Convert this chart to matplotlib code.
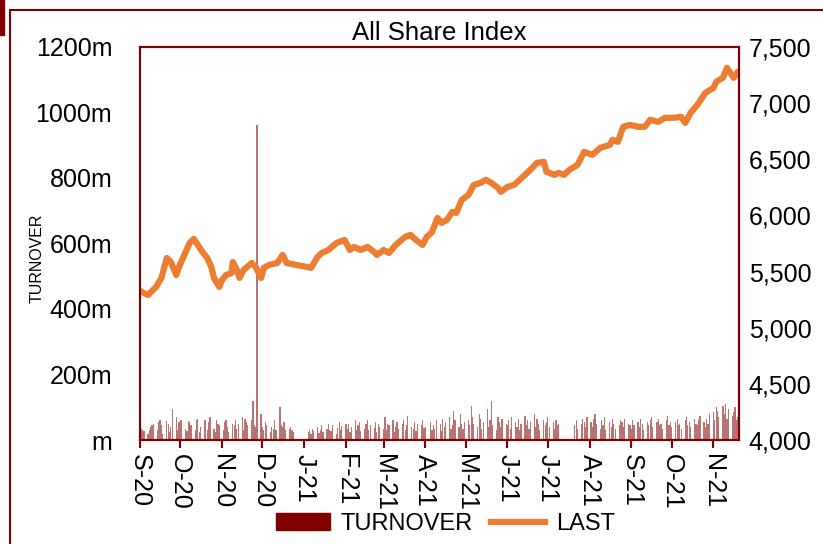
import matplotlib
matplotlib.use("Agg")
import matplotlib.pyplot as plt
import matplotlib.dates as mdates
from matplotlib.patches import Rectangle
from matplotlib.lines import Line2D
from matplotlib.patches import Patch
import pandas as pd

plt.rcParams["font.family"] = ["Liberation Sans", "DejaVu Sans"]

# daily turnover (millions), one value per business day from 2020-09-01
turnover = [
    # Sep-20
    25, 35, 30, 28, 20, 32, 40, 45, 50, 30, 55, 60, 45, 20, 58, 50, 25, 40, 95, 70, 30, 55,
    # Oct-20
    62, 60, 35, 28, 58, 55, 45, 30, 60, 65, 25, 40, 60, 62, 30, 55, 70, 35, 25, 60, 50, 45,
    # Nov-20
    30, 55, 62, 40, 25, 50, 45, 60, 35, 50, 70, 30, 65, 55, 45, 60, 120, 45, 40, 960, 80,
    # Dec-20
    40, 30, 55, 45, 25, 40, 35, 60, 30, 100, 45, 40, 55, 30, 35, 40, 30, 25, 0, 0, 0, 0, 0,
    # Jan-21
    0, 25, 30, 20, 35, 28, 40, 22, 30, 45, 25, 35, 50, 30, 28, 45, 20, 38, 55, 30, 42,
    # Feb-21
    48, 35, 50, 25, 40, 60, 30, 45, 55, 28, 35, 50, 62, 30, 45, 38, 55, 25, 48, 40,
    # Mar-21
    35, 70, 30, 50, 45, 60, 25, 40, 55, 35, 48, 62, 30, 45, 75, 40, 35, 55, 28, 50, 45, 60, 38,
    # Apr-21
    40, 0, 55, 30, 45, 35, 60, 50, 28, 65, 40, 55, 70, 35, 45, 90, 60, 40, 80, 50, 35, 55,
    # May-21
    60, 45, 105, 70, 50, 40, 80, 65, 35, 55, 95, 40, 60, 120, 45, 30, 70, 55, 40, 65, 50,
    # Jun-21
    45, 60, 35, 70, 55, 40, 65, 30, 50, 75, 45, 60, 35, 55, 80, 40, 65, 50, 30, 60, 45, 55,
    # Jul-21
    70, 40, 55, 35, 60, 45, 50, 0, 0, 0, 0, 0, 0, 0, 45, 60, 35, 50, 65, 55, 40, 70,
    # Aug-21
    55, 40, 65, 80, 50, 35, 60, 45, 70, 30, 55, 40, 65, 50, 35, 45, 60, 55, 40, 65, 50, 45,
    # Sep-21
    35, 60, 45, 55, 40, 65, 50, 30, 55, 45, 60, 70, 40, 55, 65, 45, 50, 35, 60, 75, 45, 55,
    # Oct-21
    40, 55, 65, 45, 50, 35, 60, 70, 45, 55, 40, 65, 50, 45, 60, 75, 55, 40, 65, 50, 80,
    # Nov-21
    85, 60, 100, 90, 70, 105, 80, 110, 65, 95, 75, 85, 100, 60, 70,
]

last_dates = [
    "2020-09-01", "2020-09-07", "2020-09-13", "2020-09-17", "2020-09-21", "2020-09-24",
    "2020-09-28", "2020-09-30", "2020-10-04", "2020-10-08", "2020-10-11", "2020-10-14",
    "2020-10-18", "2020-10-21", "2020-10-24", "2020-10-26", "2020-10-30", "2020-11-01",
    "2020-11-04", "2020-11-08", "2020-11-09", "2020-11-12", "2020-11-14", "2020-11-17",
    "2020-11-23", "2020-11-26", "2020-11-30", "2020-12-02", "2020-12-06", "2020-12-12",
    "2020-12-16", "2020-12-19", "2020-12-26", "2021-01-03", "2021-01-06", "2021-01-11",
    "2021-01-14", "2021-01-19", "2021-01-25", "2021-01-31", "2021-02-04", "2021-02-07",
    "2021-02-12", "2021-02-17", "2021-02-22", "2021-02-24", "2021-03-01", "2021-03-05",
    "2021-03-10", "2021-03-17", "2021-03-21", "2021-03-25", "2021-03-30", "2021-04-02",
    "2021-04-06", "2021-04-10", "2021-04-13", "2021-04-17", "2021-04-21", "2021-04-24",
    "2021-04-28", "2021-05-03", "2021-05-07", "2021-05-12", "2021-05-16", "2021-05-20",
    "2021-05-25", "2021-05-27", "2021-06-01", "2021-06-06", "2021-06-14", "2021-06-18",
    "2021-06-23", "2021-06-28", "2021-06-30", "2021-07-06", "2021-07-09", "2021-07-13",
    "2021-07-17", "2021-07-23", "2021-07-28", "2021-08-03", "2021-08-09", "2021-08-16",
    "2021-08-18", "2021-08-22", "2021-08-26", "2021-08-31", "2021-09-06", "2021-09-11",
    "2021-09-15", "2021-09-21", "2021-09-26", "2021-10-03", "2021-10-08", "2021-10-11",
    "2021-10-15", "2021-10-20", "2021-10-26", "2021-11-01", "2021-11-03", "2021-11-08",
    "2021-11-11", "2021-11-16", "2021-11-19",
]
last_values = [
    5327, 5291, 5363, 5443, 5621, 5585, 5469, 5541, 5648, 5754, 5790, 5737,
    5665, 5621, 5541, 5443, 5363, 5425, 5469, 5487, 5585, 5514, 5443, 5514,
    5576, 5541, 5443, 5532, 5559, 5576, 5648, 5576, 5559, 5541, 5532, 5630,
    5665, 5692, 5754, 5781, 5692, 5719, 5692, 5719, 5674, 5648, 5692, 5665,
    5737, 5808, 5826, 5781, 5737, 5808, 5852, 5977, 5933, 5959, 6031, 6022,
    6137, 6182, 6271, 6289, 6316, 6289, 6244, 6209, 6253, 6271, 6360, 6405,
    6467, 6476, 6387, 6360, 6378, 6360, 6405, 6449, 6565, 6538, 6601, 6627,
    6672, 6654, 6788, 6805, 6788, 6788, 6850, 6832, 6868, 6868, 6877, 6823,
    6912, 6983, 7090, 7135, 7188, 7224, 7313, 7224, 7277,
]

DARK_RED = "#800000"
ORANGE = "#ED7D31"

turnover_dates = pd.bdate_range("2020-09-01", periods=len(turnover))
line_dates = pd.to_datetime(last_dates)

fig = plt.figure(figsize=(8.23, 5.44), dpi=100)
ax = fig.add_axes([0.170, 0.191, 0.728, 0.723])
ax2 = ax.twinx()

ax.bar(turnover_dates, turnover, width=0.9, color=DARK_RED, alpha=0.55, linewidth=0)
ax2.plot(line_dates, last_values, color=ORANGE, linewidth=4.5, solid_capstyle="round",
         solid_joinstyle="round")

ax.set_ylim(0, 1200)
ax.set_yticks(range(0, 1201, 200))
ax.set_yticklabels([f"{v}m" if v else "m" for v in range(0, 1201, 200)])
ax2.set_ylim(4000, 7500)
ax2.set_yticks(range(4000, 7501, 500))
ax2.set_yticklabels([f"{v:,}" for v in range(4000, 7501, 500)])

ax.set_xlim(pd.Timestamp("2020-09-01"), pd.Timestamp("2021-11-20"))
ax.xaxis.set_major_locator(mdates.MonthLocator())
ax.xaxis.set_major_formatter(
    plt.FuncFormatter(lambda x, _: mdates.num2date(x).strftime("%b")[0]
                      + mdates.num2date(x).strftime("-%y")))

for a in (ax, ax2):
    for s in a.spines.values():
        s.set_color(DARK_RED)
        s.set_linewidth(1.5)
ax.tick_params(axis="x", direction="out", length=6, width=1.5, color=DARK_RED,
               labelsize=18, labelrotation=270, pad=4)
ax.tick_params(axis="y", length=0, labelsize=18, pad=20)
ax2.tick_params(axis="y", length=0, labelsize=18, pad=7)
ax.set_ylabel("TURNOVER", fontsize=11.5)
ax.yaxis.set_label_coords(-0.159, 0.463)
ax.set_title("All Share Index", fontsize=18.5, pad=5)

fig.legend(handles=[Patch(color=DARK_RED, label="TURNOVER"),
                    Line2D([], [], color=ORANGE, linewidth=4.5, label="LAST")],
           loc="center", bbox_to_anchor=(0.541, 0.037), ncol=2, frameon=False,
           fontsize=17, handlelength=2.3, columnspacing=0.75, handletextpad=0.45)

# outer chart frame
fig.patches.append(Rectangle((10 / 823, -0.1), 1.2, 1 - 10 / 544 + 0.1,
                             transform=fig.transFigure, fill=False,
                             edgecolor=DARK_RED, linewidth=1.5))
fig.patches.append(Rectangle((0, 1 - 35 / 544), 4 / 823, 35 / 544,
                             transform=fig.transFigure, color=DARK_RED))

fig.savefig("out.png", dpi=100)
